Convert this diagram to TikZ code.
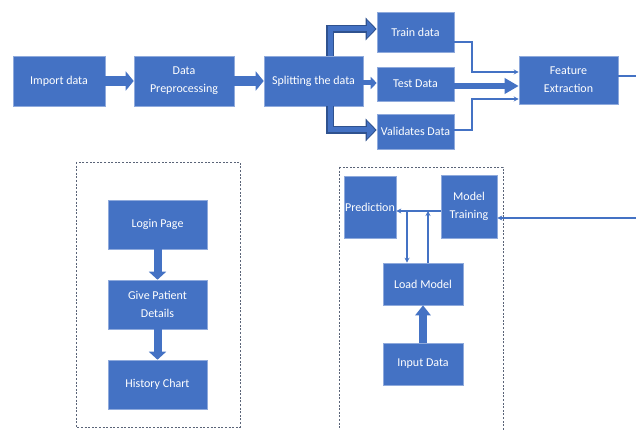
\documentclass[tikz,border=0pt]{standalone}
\usepackage{fontspec}
\setmainfont{Carlito}
\usetikzlibrary{arrows.meta,calc}
\definecolor{boxblue}{HTML}{4472C4}
\definecolor{boxedge}{HTML}{8FAADC}
\definecolor{arrdark}{HTML}{2F528F}
\definecolor{dashgray}{HTML}{5A6478}
\tikzset{
  blk/.style={draw=boxedge, line width=0.6pt, fill=boxblue, text=white, font=\fontsize{12}{18}\selectfont, align=center, inner sep=1pt, minimum width=#1},
  thinarr/.style={draw=boxblue, line width=1.4pt, -{Stealth[length=5pt,width=5pt]}},
  thinln/.style={draw=boxblue, line width=1.4pt},
  fatarr/.style={draw=boxblue, line width=#1},
  grp/.style={draw=dashgray, line width=0.7pt, dash pattern=on 2pt off 1.6pt},
}
\begin{document}
\begin{tikzpicture}[x=1pt,y=-1pt]
\clip (0,0) rectangle (636,430);
\fill[white] (0,0) rectangle (636,430);
% top row
\node[blk=92pt, minimum height=50pt] (imp) at (59,81) {Import data};
\node[blk=100pt, minimum height=50pt] (pre) at (184,81) {Data\\Preprocessing};
\node[blk=99pt, minimum height=50pt] (spl) at (313.5,81) {Splitting the data};
\node[blk=77pt, minimum height=40pt] (train) at (415.5,32) {Train data};
\node[blk=77pt, minimum height=34pt] (test) at (415.5,84) {Test Data};
\node[blk=77pt, minimum height=35pt] (val) at (415.5,131.5) {Validates Data};
\node[blk=99pt, minimum height=48pt] (feat) at (568.5,80) {Feature\\Extraction};
% bottom left
\draw[grp] (76,162) rectangle (240,427);
\node[blk=99pt, minimum height=49pt] (login) at (157.5,224.5) {Login Page};
\node[blk=99pt, minimum height=49pt] (give) at (157.5,304.5) {Give Patient\\Details};
\node[blk=99pt, minimum height=49pt] (hist) at (157.5,384.5) {History Chart};
% bottom right
\draw[grp] (339,167) rectangle (503,445);
\node[blk=52pt, minimum height=62pt, inner sep=0pt] (pred) at (370,207) {Prediction};
\node[blk=56pt, minimum height=63pt] (mt) at (469,206.5) {Model\\Training};
\node[blk=80pt, minimum height=42pt] (load) at (423,284) {Load Model};
\node[blk=80pt, minimum height=42pt] (inp) at (423,364) {Input Data};
% coordinates
\coordinate (up) at (330,29);
\coordinate (dn) at (330,130);
\coordinate (tj) at (472,72);
\coordinate (vj) at (472,99);
\coordinate (fo) at (645,76);
\coordinate (fb) at (645,218);
\coordinate (ja) at (428,211);
\coordinate (jb) at (407,211);
% thick arrows
\draw[fatarr=10pt, -{Triangle[width=19pt,length=8pt]}] (imp.east) -- (pre.west);
\draw[fatarr=10pt, -{Triangle[width=19pt,length=8pt]}] (pre.east) -- (spl.west);
\draw[fatarr=7.5pt, arrdark, line join=miter, -{Triangle[width=22pt,length=11pt]}] (spl.north -| up) -- (up) -- (train.west |- up);
\draw[fatarr=5pt, line join=miter, -{Triangle[width=17pt,length=8pt]}] ([yshift=-0.6pt]spl.north -| up) -- (up) -- ([xshift=-1.6pt]train.west |- up);
\draw[fatarr=7.5pt, arrdark, line join=miter, -{Triangle[width=22pt,length=11pt]}] (spl.south -| dn) -- (dn) -- (val.west |- dn);
\draw[fatarr=5pt, line join=miter, -{Triangle[width=17pt,length=8pt]}] ([yshift=0.6pt]spl.south -| dn) -- (dn) -- ([xshift=-1.6pt]val.west |- dn);
\draw[fatarr=5pt, -{Triangle[width=12pt,length=6pt]}] (spl.east |- 0,83) -- (test.west |- 0,83);
\draw[fatarr=6pt, -{Triangle[width=15pt,length=14pt]}] (test.east |- 0,86) -- (feat.west |- 0,86);
\draw[fatarr=8pt, -{Triangle[width=17pt,length=8pt]}] (login.south) -- (give.north);
\draw[fatarr=8pt, -{Triangle[width=17pt,length=8pt]}] (give.south) -- (hist.north);
\draw[fatarr=8pt, -{Triangle[width=15pt,length=10pt]}] (inp.north) -- (load.south);
% thin connectors
\draw[thinarr] (train.east |- 0,42) -- (tj |- 0,42) -- (tj) -- (feat.west |- tj);
\draw[thinarr] (val.east |- 0,130) -- (vj |- 0,130) -- (vj) -- (feat.west |- vj);
\draw[thinln] (feat.east |- fo) -- (fo) -- (fb);
\draw[thinarr] (fb) -- (mt.east |- fb);
\draw[thinarr] (mt.west |- ja) -- (pred.east |- ja);
\draw[thinarr] (load.north -| ja) -- (ja);
\draw[thinarr] (jb) -- (load.north -| jb);
\end{tikzpicture}
\end{document}
